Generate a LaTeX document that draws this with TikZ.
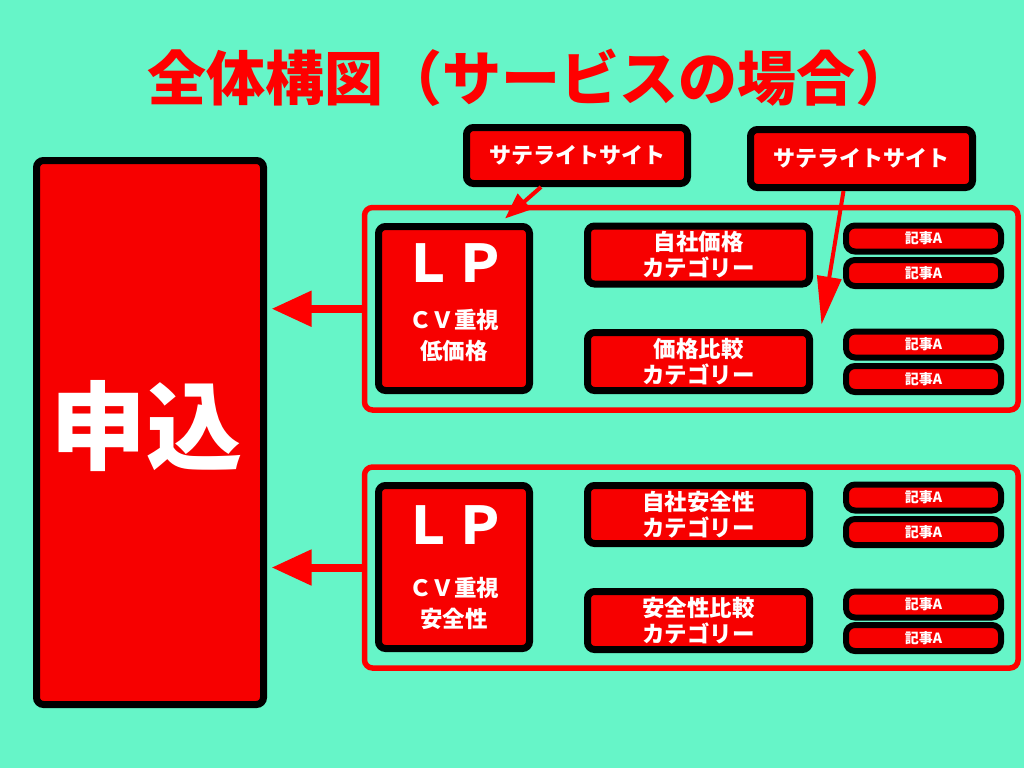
\documentclass[tikz,border=0pt]{standalone}
\usepackage{fontspec}
\newfontfamily\jp{Noto Sans CJK JP}
\usetikzlibrary{arrows.meta}
\definecolor{bgc}{RGB}{102,245,200}
\definecolor{boxred}{RGB}{247,0,0}
\definecolor{frmred}{RGB}{255,0,0}
\begin{document}
\begin{tikzpicture}[x=1pt,y=-1pt,
  blk/.style={draw=black, line width=7pt, fill=boxred, rounded corners=7pt, text=white, font=\jp\bfseries, align=center, inner sep=0pt},
  art/.style={blk, line width=6pt, rounded corners=9pt, minimum width=155pt, minimum height=26pt, font=\jp\bfseries\fontsize{14}{16}\selectfont},
  cat/.style={blk, minimum width=222pt, minimum height=58pt, font=\jp\bfseries\fontsize{22.5}{26}\selectfont},
  sat/.style={blk, font=\jp\bfseries\fontsize{22}{26}\selectfont},
  frm/.style={draw=frmred, line width=5.5pt, rounded corners=8pt, inner sep=0pt},
  txt/.style={text=white, font=\jp\bfseries, align=center, inner sep=0pt},
  bigarrow/.style={draw=frmred, line width=8pt, -{Triangle[length=40pt,width=34pt]}},
  thinarrow/.style={draw=frmred, line width=4pt}
]
\fill[bgc] (0,0) rectangle (1024,768);
\useasboundingbox (0,0) rectangle (1024,768);

\node[text=frmred, font=\jp\bfseries\fontsize{59}{66}\selectfont, inner sep=0pt] (title) at (531,78) {全体構図（サービスの場合）};

\node[blk, minimum width=227pt, minimum height=544pt] (apply) at (150,432.5) {};
\node[txt, font=\jp\bfseries\fontsize{96}{100}\selectfont] (applyt) at (146,426) {申込};

\node[sat, minimum width=221pt, minimum height=56pt] (sat1) at (577,155.5) {サテライトサイト};
\node[sat, minimum width=222pt, minimum height=58pt] (sat2) at (861.5,158.5) {サテライトサイト};

% group 1
\node[frm, minimum width=653.5pt, minimum height=202.5pt] (g1) at (691.25,308.75) {};
\node[blk, minimum width=151pt, minimum height=164pt] (lp1) at (454,308.5) {};
\node[txt, font=\jp\bfseries\fontsize{52}{56}\selectfont] (lp1t) at (454,263) {ＬＰ};
\node[txt, font=\jp\bfseries\fontsize{22.5}{31}\selectfont] (lp1s) at (454,335.5) {ＣＶ重視\\低価格};
\node[cat] (c11) at (698.5,255) {自社価格\\カテゴリー};
\node[cat] (c12) at (698.5,361.5) {価格比較\\カテゴリー};
\node[art] (a11) at (923.5,238.5) {記事A};
\node[art] (a12) at (923.5,273) {記事A};
\node[art] (a13) at (923.5,344.5) {記事A};
\node[art] (a14) at (923.5,379) {記事A};

% group 2
\node[frm, minimum width=653.5pt, minimum height=201pt] (g2) at (691.25,567.5) {};
\node[blk, minimum width=151pt, minimum height=163pt] (lp2) at (454,567) {};
\node[txt, font=\jp\bfseries\fontsize{52}{56}\selectfont] (lp2t) at (454,525) {ＬＰ};
\node[txt, font=\jp\bfseries\fontsize{22.5}{31}\selectfont] (lp2s) at (454,603.5) {ＣＶ重視\\安全性};
\node[cat] (c21) at (698.5,514.5) {自社安全性\\カテゴリー};
\node[cat] (c22) at (698.5,620.5) {安全性比較\\カテゴリー};
\node[art] (a21) at (923.5,497.5) {記事A};
\node[art] (a22) at (923.5,532) {記事A};
\node[art] (a23) at (923.5,604.5) {記事A};
\node[art] (a24) at (923.5,638) {記事A};

% arrows
\draw[bigarrow] (g1.west) -- ([xshift=4.5pt]apply.east |- g1.west);
\draw[bigarrow] (g2.west) -- ([xshift=4.5pt]apply.east |- g2.west);
\draw[thinarrow, -{Triangle[length=26pt,width=20pt]}] ([xshift=-36pt]sat1.south) -- ([xshift=51pt,yshift=4.5pt]lp1.north);
\draw[thinarrow, -{Triangle[length=48pt,width=24pt]}] ([xshift=-18pt]sat2.south) -- ([xshift=8.5pt,yshift=4.5pt]c12.north east);
\end{tikzpicture}
\end{document}
